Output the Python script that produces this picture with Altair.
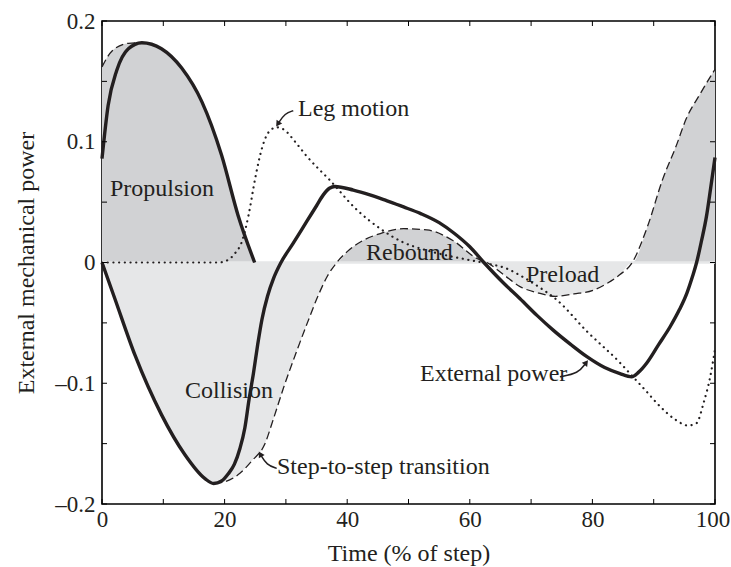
import altair as alt
import pandas as pd

# ---------------- data ----------------
# External power (solid) - wrap-around part at the start of the step
ext_a_x = [0, 1.0, 2.4, 4.3, 6.5, 9.7, 13.0, 16.3, 19.5, 22.2, 24.9]
ext_a_y = [0.086, 0.130, 0.159, 0.177, 0.182, 0.177, 0.161, 0.133, 0.089, 0.039, 0.0]

# External power (solid) - main part
ext_b_x = [0, 2.1, 5.4, 9.7, 13.5, 16.8, 18.2, 19.5, 20.6, 21.6,
           22.5, 23.3, 24.0, 24.7, 25.4, 26.1, 27.0, 28.0, 29.2, 31.2,
           33.4, 35.0, 36.1, 37.1, 38.0, 41.0, 43.7, 46.5, 49.2, 52.0,
           55.0, 57.5, 60.0, 62.3, 65.5, 68.2, 71.0, 73.6, 76.5, 79.1,
           82.0, 84.5, 86.4, 87.5, 88.9, 90.8, 92.7, 94.2, 95.4, 96.3,
           97.0, 97.8, 98.6, 99.3, 100]
ext_b_y = [0, -0.030, -0.077, -0.126, -0.159, -0.179, -0.183, -0.181, -0.175, -0.167,
           -0.154, -0.137, -0.113, -0.092, -0.068, -0.047, -0.028, -0.013, 0.0, 0.016,
           0.034, 0.047, 0.056, 0.0615, 0.063, 0.060, 0.056, 0.051, 0.046, 0.0405,
           0.033, 0.024, 0.013, 0.0, -0.017, -0.030, -0.044, -0.056, -0.068, -0.078,
           -0.087, -0.092, -0.0946, -0.091, -0.083, -0.068, -0.053, -0.039, -0.0255, -0.012,
           0.0, 0.018, 0.038, 0.062, 0.087]

# Step-to-step transition (dashed) - start part
s2s_a_x = [0, 1.6, 4.3, 6.5, 9.7, 13.0, 16.3, 19.5, 22.2, 24.9]
s2s_a_y = [0.162, 0.175, 0.1815, 0.182, 0.177, 0.161, 0.133, 0.089, 0.039, 0.0]

# Step-to-step transition (dashed) - main part
s2s_b_x = [0, 2.1, 5.4, 9.7, 13.5, 16.8, 18.2, 20.1, 22.5, 24.5,
           26.5, 28.0, 29.6, 31.5, 33.5, 35.3, 36.8, 38.3, 40.0, 42.5,
           45.4, 49.2, 53.0, 57.3, 61.1, 62.8, 65.5, 68.2, 71.0, 74.0,
           77.0, 80.1, 82.5, 84.5, 86.5, 89.0, 91.4, 93.7, 95.3, 97.5,
           100]
s2s_b_y = [0, -0.030, -0.077, -0.126, -0.159, -0.179, -0.183, -0.1815, -0.1746, -0.164,
           -0.151, -0.129, -0.104, -0.077, -0.050, -0.027, -0.011, 0.0, 0.009, 0.018,
           0.024, 0.028, 0.027, 0.018, 0.0035, 0.0, -0.010, -0.020, -0.025, -0.028,
           -0.026, -0.023, -0.017, -0.010, 0.0, 0.030, 0.068, 0.097, 0.119, 0.139,
           0.160]

# Leg motion (dotted)
leg_x = [0, 10, 19.0, 20.5, 21.7, 22.8, 23.9, 25.0, 26.0, 27.2,
         28.5, 29.7, 31.5, 33.4, 37.2, 41.5, 45.4, 49.0, 53.0, 57.0,
         60.0, 63.0, 66.0, 69.0, 71.5, 74.2, 79.1, 84.5, 86.5, 88.5,
         91.0, 93.5, 95.6, 97.0, 98.1, 99.2, 100]
leg_y = [0, 0, 0, 0.002, 0.0076, 0.017, 0.039, 0.070, 0.093, 0.108,
         0.112, 0.110, 0.100, 0.088, 0.068, 0.044, 0.028, 0.017, 0.010, 0.005,
         0.002, -0.001, -0.005, -0.013, -0.021, -0.031, -0.057, -0.083, -0.094, -0.105,
         -0.119, -0.130, -0.135, -0.133, -0.117, -0.095, -0.072]

# annotations
ann_labels = ["Leg motion", "Propulsion", "Collision", "Step-to-step transition",
              "Rebound", "Preload", "External power"]
ann_x = [31.97, 1.3, 13.54, 28.55, 43.07, 69.17, 51.88]
ann_y = [0.1271, 0.0609, -0.1064, -0.1694, 0.0079, -0.0104, -0.0923]

# small curved pointer arrows (start, bend, tip)
arrow_id = ["leg", "leg", "leg", "s2s", "s2s", "s2s", "ext", "ext", "ext"]
arrow_x = [31.2, 29.85, 28.76, 28.5, 26.87, 25.9, 74.7, 77.7, 78.9]
arrow_y = [0.1257, 0.1236, 0.1153, -0.1705, -0.1677, -0.1594, -0.0946, -0.0918, -0.0835]
head_x = [28.76, 25.9, 78.9]
head_y = [0.1153, -0.1594, -0.0835]
head_angle = [214, 330, 37]

x_tick_labels = [0, 20, 40, 60, 80, 100]
y_tick_labels = [-0.2, -0.1, 0, 0.1, 0.2]
x_minor = [0, 10, 20, 30, 40, 50, 60, 70, 80, 90, 100]
y_minor = [-0.2, -0.15, -0.1, -0.05, 0, 0.05, 0.1, 0.15, 0.2]

# ---------------- tables ----------------
def df(xs, ys):
    return pd.DataFrame({"x": xs, "y": ys})

ext_a = df(ext_a_x, ext_a_y)
ext_b = df(ext_b_x, ext_b_y)
s2s_a = df(s2s_a_x, s2s_a_y)
s2s_b = df(s2s_b_x, s2s_b_y)
leg = df(leg_x, leg_y)
pos_b = df(s2s_b_x, [max(v, 0) for v in s2s_b_y])
neg_b = df(s2s_b_x, [min(v, 0) for v in s2s_b_y])
ann = pd.DataFrame({"x": ann_x, "y": ann_y, "label": ann_labels})
arr = pd.DataFrame({"x": arrow_x, "y": arrow_y, "id": arrow_id, "i": list(range(len(arrow_x)))})
heads = pd.DataFrame({"x": head_x, "y": head_y, "a": head_angle})

W, H = 613, 483
FONT = "Liberation Serif"
INK = "#231f20"

xaxis = alt.Axis(values=x_tick_labels, ticks=False, domain=False, grid=False,
                 labelFont=FONT, labelFontSize=23, labelColor=INK, labelPadding=4,
                 labelFlush=False, labelOverlap=False,
                 labelOffset={"condition": {"test": "datum.value == 100", "value": -2.5}, "value": 0},
                 title="Time (% of step)", titleFont=FONT, titleFontSize=24,
                 titleFontWeight="normal", titleColor=INK, titleY=49,
                 titleBaseline="middle")
yaxis = alt.Axis(values=y_tick_labels, ticks=False, domain=False, grid=False,
                 labelFont=FONT, labelFontSize=23, labelColor=INK, labelPadding=7,
                 labelOverlap=False,
                 labelExpr="datum.value == 0 ? '0' : (datum.value < 0 ? '\u2013' + format(-datum.value, '.1f') : format(datum.value, '.1f'))",
                 title="External mechanical power", titleFont=FONT, titleFontSize=24,
                 titleFontWeight="normal", titleColor=INK, titleAngle=270,
                 titleX=-76, titleY=H / 2, titleAlign="center", titleBaseline="middle")

X = alt.X("x:Q", scale=alt.Scale(domain=[0, 100], nice=False, zero=False), axis=xaxis)
Y = alt.Y("y:Q", scale=alt.Scale(domain=[-0.2, 0.2], nice=False, zero=False), axis=yaxis)

DARK = "#d1d2d4"
LIGHT = "#e6e7e8"

fill_a = alt.Chart(s2s_a).mark_area(color=DARK, interpolate="monotone").encode(x=X, y=Y, y2=alt.datum(0))
fill_bp = alt.Chart(pos_b).mark_area(color=DARK, interpolate="monotone").encode(x=X, y=Y, y2=alt.datum(0))
fill_bn = alt.Chart(neg_b).mark_area(color=LIGHT, interpolate="monotone").encode(x=X, y=Y, y2=alt.datum(0))

zero_line = alt.Chart(pd.DataFrame({"y": [0]})).mark_rule(color=LIGHT, strokeWidth=2.5).encode(
    y=Y, x=alt.value(0), x2=alt.value(W))

leg_line = alt.Chart(leg).mark_line(color=INK, strokeWidth=2.2, strokeDash=[0.1, 5.6],
                                    strokeCap="round", interpolate="monotone").encode(x=X, y=Y)
s2s_a_line = alt.Chart(s2s_a).mark_line(color=INK, strokeWidth=1.3, strokeDash=[8, 4],
                                        interpolate="monotone").encode(x=X, y=Y)
s2s_b_line = alt.Chart(s2s_b).mark_line(color=INK, strokeWidth=1.3, strokeDash=[8, 4],
                                        interpolate="monotone").encode(x=X, y=Y)
ext_a_line = alt.Chart(ext_a).mark_line(color=INK, strokeWidth=3.4, interpolate="monotone").encode(x=X, y=Y)
ext_b_line = alt.Chart(ext_b).mark_line(color=INK, strokeWidth=3.4, interpolate="monotone").encode(x=X, y=Y)

texts = alt.Chart(ann).mark_text(font=FONT, fontSize=24, color=INK, align="left",
                                 baseline="middle").encode(x=X, y=Y, text="label:N")

arrows = alt.Chart(arr).mark_line(color=INK, strokeWidth=1.5, interpolate="basis").encode(
    x=X, y=Y, detail="id:N", order="i:Q")
arrow_heads = alt.Chart(heads).mark_point(shape="triangle", filled=True, color=INK, size=45,
                                         opacity=1).encode(x=X, y=Y, angle=alt.Angle("a:Q", scale=None))

xt = pd.DataFrame({"x": x_minor})
yt = pd.DataFrame({"y": y_minor})
tb = alt.Chart(xt).mark_rule(color="black", strokeWidth=1).encode(x=X, y=alt.value(H), y2=alt.value(H - 5))
tt = alt.Chart(xt).mark_rule(color="black", strokeWidth=1).encode(x=X, y=alt.value(0), y2=alt.value(5))
tl = alt.Chart(yt).mark_rule(color="black", strokeWidth=1).encode(y=Y, x=alt.value(0), x2=alt.value(5))
tr = alt.Chart(yt).mark_rule(color="black", strokeWidth=1).encode(y=Y, x=alt.value(W), x2=alt.value(W - 5))

chart = alt.layer(
    fill_a, fill_bp, fill_bn, zero_line,
    leg_line, s2s_a_line, s2s_b_line, ext_a_line, ext_b_line,
    texts, arrows, arrow_heads, tb, tt, tl, tr
).properties(
    width=W, height=H,
    padding={"left": 102, "top": 21, "right": 16, "bottom": 63},
    autosize=alt.AutoSizeParams(type="none"),
    background="white",
).configure_view(stroke="black", strokeWidth=1.6)

chart.save("out.html", embed_options={"renderer": "svg", "actions": False})
